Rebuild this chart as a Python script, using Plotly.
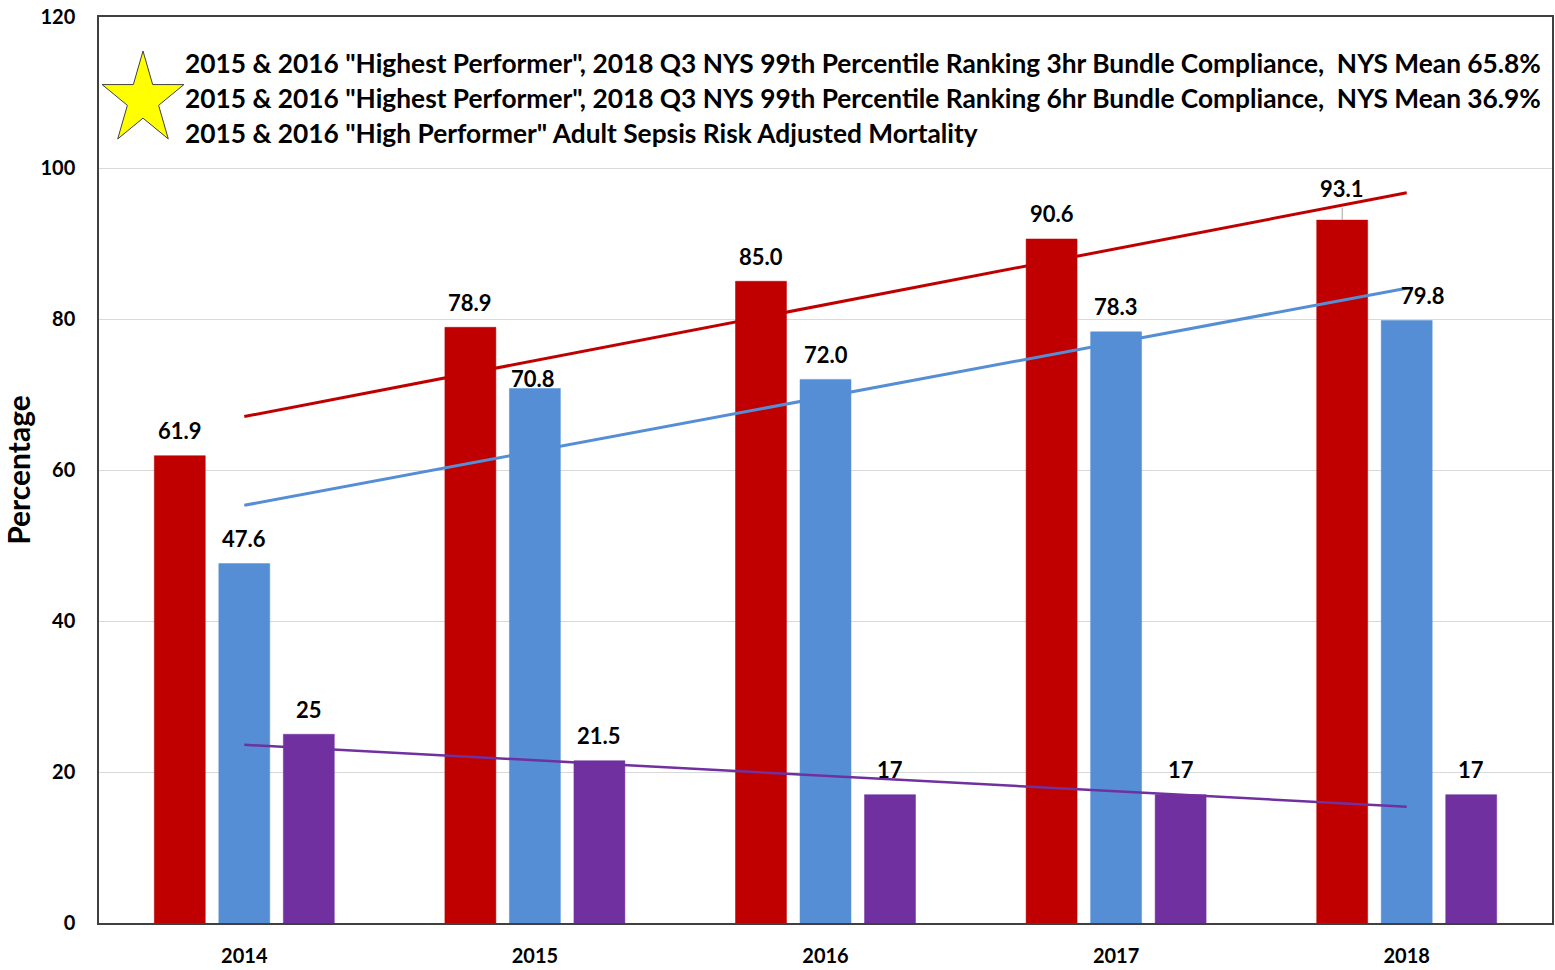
import math
import numpy as np
import plotly.graph_objects as go

# ---------------- data ----------------
years = ["2014", "2015", "2016", "2017", "2018"]
bundle_3hr = [61.9, 78.9, 85.0, 90.6, 93.1]
bundle_6hr = [47.6, 70.8, 72.0, 78.3, 79.8]
mortality = [25, 21.5, 17, 17, 17]
label_text_3hr = ["61.9", "78.9", "85.0", "90.6", "93.1"]
label_text_6hr = ["47.6", "70.8", "72.0", "78.3", "79.8"]
label_text_mort = ["25", "21.5", "17", "17", "17"]
legend_lines = [
    '2015 & 2016 "Highest Performer", 2018 Q3 NYS 99th Percentile Ranking 3hr Bundle Compliance,  NYS Mean 65.8%',
    '2015 & 2016 "Highest Performer", 2018 Q3 NYS 99th Percentile Ranking 6hr Bundle Compliance,  NYS Mean 36.9%',
    '2015 & 2016 "High Performer" Adult Sepsis Risk Adjusted Mortality',
]
y_ticks = [0, 20, 40, 60, 80, 100, 120]

# ---------------- style ----------------
RED = "#C00000"
BLUE = "#558ED5"
PURPLE = "#7030A0"
FONT = "Lato"
W, H = 1555, 970
ML, MR, MT, MB = 99, 3, 17, 47
PW, PH = W - ML - MR, H - MT - MB

BARGAP = 0.334
BARGROUPGAP = 0.21
slot = (1 - BARGAP) / 3
offsets = [-slot, 0.0, slot]

# per-label pixel nudges (index -> (xshift, yshift)); default (0, 25)
nudges_3hr = {4: (0, 32)}
nudges_6hr = {1: (-2, 10), 4: (16, 25)}

def px_to_paper(px, py):
    return (px - ML) / PW, (H - MB - py) / PH

fig = go.Figure()
xs = list(range(len(years)))
for vals, col, name in [(bundle_3hr, RED, "3hr"), (bundle_6hr, BLUE, "6hr"), (mortality, PURPLE, "mort")]:
    fig.add_trace(go.Bar(x=xs, y=vals, name=name, marker=dict(color=col, line=dict(color=col, width=0.5)),
                         showlegend=False, hoverinfo="skip"))

# linear trend lines
for vals, col, wdt in [(bundle_3hr, RED, 3), (bundle_6hr, BLUE, 3), (mortality, PURPLE, 2.5)]:
    k, b = np.polyfit(xs, vals, 1)
    fig.add_trace(go.Scatter(x=[xs[0], xs[-1]], y=[b + k * xs[0], b + k * xs[-1]], mode="lines",
                             line=dict(color=col, width=wdt), showlegend=False, hoverinfo="skip"))

annotations = []
for series, texts, off, nudges in [(bundle_3hr, label_text_3hr, offsets[0], nudges_3hr),
                                   (bundle_6hr, label_text_6hr, offsets[1], nudges_6hr),
                                   (mortality, label_text_mort, offsets[2], {})]:
    for i, (v, t) in enumerate(zip(series, texts)):
        xs_, ys_ = nudges.get(i, (0, 25))
        annotations.append(dict(x=i + off, y=v, xref="x", yref="y", text=t, showarrow=False,
                                xanchor="center", yanchor="middle", xshift=xs_, yshift=ys_,
                                font=dict(family=FONT, size=22, color="black", weight="bold")))

# leader line for the displaced 93.1 label
shapes = [dict(type="line", xref="x", yref="y", x0=4 + offsets[0], x1=4 + offsets[0],
               y0=bundle_3hr[4], y1=bundle_3hr[4] + 1.6, line=dict(color="#A6A6A6", width=1), layer="above")]

# legend text lines
for j, line in enumerate(legend_lines):
    xp, yp = px_to_paper(183, 63 + 35 * j)
    annotations.append(dict(x=xp, y=yp, xref="paper", yref="paper", text=line, showarrow=False,
                            xanchor="left", yanchor="middle",
                            font=dict(family=FONT, size=26.3, color="black", weight="bold")))

# star
cx, cy, rx, ry = 143, 99.6, 43, 48.6
pts = []
for k in range(10):
    ang = math.radians(90 + 36 * k)
    f = 1.0 if k % 2 == 0 else 0.382
    px = cx + rx * f * math.cos(ang)
    py = cy - ry * f * math.sin(ang)
    pts.append(px_to_paper(px, py))
path = "M " + " L ".join(f"{a:.5f},{b:.5f}" for a, b in pts) + " Z"
shapes.append(dict(type="path", xref="paper", yref="paper", path=path, fillcolor="#FFFF00",
                   line=dict(color="#404040", width=1), layer="above"))

fig.update_layout(
    width=W, height=H, margin=dict(l=ML, r=MR, t=MT, b=MB, autoexpand=False),
    paper_bgcolor="white", plot_bgcolor="white",
    barmode="group", bargap=BARGAP, bargroupgap=BARGROUPGAP,
    annotations=annotations, shapes=shapes,
    xaxis=dict(range=[-0.5, len(years) - 0.5], tickmode="array", tickvals=xs, ticktext=years,
               showline=True, linecolor="#404040", linewidth=1.5, mirror=True, showgrid=False,
               zeroline=False, ticks="", ticklabelstandoff=14,
               tickfont=dict(family=FONT, size=20, color="black", weight="bold")),
    yaxis=dict(range=[0, 120], tickmode="array", tickvals=y_ticks, showgrid=True, gridcolor="#D9D9D9",
               gridwidth=1, showline=True, linecolor="#404040", linewidth=1.5, mirror=True, zeroline=False,
               ticks="", ticklabelstandoff=18,
               tickfont=dict(family=FONT, size=20, color="black", weight="bold"),
               title=dict(text="Percentage", standoff=7,
                          font=dict(family=FONT, size=30, color="black", weight="bold"))),
)
fig.write_html("out.html")
